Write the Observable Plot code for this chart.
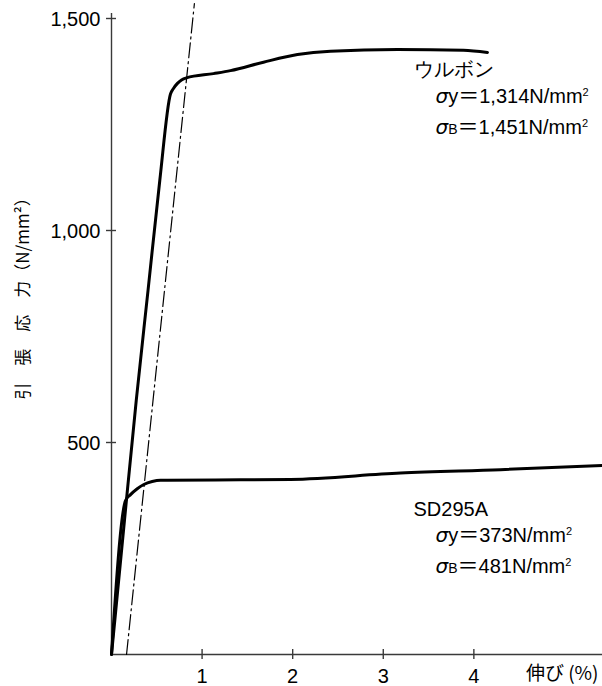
<!DOCTYPE html>
<html>
<head>
<meta charset="utf-8">
<script src="https://cdn.jsdelivr.net/npm/d3@7"></script>
<script src="https://cdn.jsdelivr.net/npm/@observablehq/plot@0.6"></script>
<style>
  html, body { margin: 0; padding: 0; background: #fff; }
  #chart svg { display: block; }
</style>
</head>
<body>
<div id="chart"></div>
<script>
// ---- data ----
const xTicks = [1, 2, 3, 4];
const yTicks = [500, 1000, 1500];

// ウルボン curve: strain (%) and stress (N/mm²)
const ultbonStrain = [0, 0.143, 0.273, 0.403, 0.533, 0.651, 0.684, 0.728, 0.773, 0.828, 1.126, 1.313, 1.678, 2.053, 2.417, 3.157, 3.885, 4.150];
const ultbonStress = [0, 316, 599, 858, 1118, 1322, 1335, 1347, 1355, 1360, 1370, 1377, 1397, 1415, 1423, 1427, 1425, 1420];

// SD295A curve
const sdStrain = [0, 0.155, 0.21, 0.284, 0.357, 0.449, 0.541, 0.615, 1.424, 1.976, 3.19, 4.294, 5.42];
const sdStress = [0, 363, 377, 391, 401, 408, 411, 411, 412, 413, 428, 436, 446];

// offset (dash-dot) line
const offsetStrain = [0.166, 0.915];
const offsetStress = [0, 1535];

// annotation texts and anchor values
const annoText = ["ウルボン", "σy＝1,314N/mm²", "σB＝1,451N/mm²", "SD295A", "σy＝373N/mm²", "σB＝481N/mm²"];
const annoStrain = [3.334, 3.577, 3.577, 3.334, 3.577, 3.577];
const annoStress = [1380, 1315, 1243, 342, 281, 208];

const yLabel = "引　張　応　力（N/mm²）";
const xLabel = "伸び (%)";

const ultbon = ultbonStrain.map((x, i) => ({x, y: ultbonStress[i]}));
const sd = sdStrain.map((x, i) => ({x, y: sdStress[i]}));
const offset = offsetStrain.map((x, i) => ({x, y: offsetStress[i]}));
const annos = annoText.map((t, i) => ({t, x: annoStrain[i], y: annoStress[i]}));

const latin = "Liberation Sans, Arial, Helvetica, sans-serif";
const cjk = "Noto Sans CJK JP, sans-serif";
const axisColor = "#3a3a3a";

const svg = Plot.plot({
  width: 602,
  height: 686,
  marginLeft: 111,
  marginRight: 0,
  marginTop: 18,
  marginBottom: 32,
  x: {domain: [0, 5.42], axis: null},
  y: {domain: [0, 1500], axis: null},
  style: {fontFamily: latin, fontSize: "20px", background: "#fff", color: "#000"},
  marks: [
    // axes lines
    Plot.ruleY([0], {stroke: axisColor, strokeWidth: 1.4}),
    Plot.ruleX([0], {y1: 0, y2: 1512, stroke: axisColor, strokeWidth: 1.4}),
    // crossing tick marks
    Plot.ruleX(xTicks, {x: d => d, y1: 0, y2: 0, insetTop: -5, insetBottom: -5, stroke: axisColor, strokeWidth: 1.4}),
    Plot.ruleY(yTicks, {y: d => d, x1: 0, x2: 0, insetLeft: -5, insetRight: -5, stroke: axisColor, strokeWidth: 1.4}),
    // tick labels
    Plot.text(xTicks, {x: d => d, y: 0, dy: 22, text: d => String(d), fontSize: 20, fontFamily: latin, fill: "#000"}),
    Plot.text(yTicks, {x: 0, y: d => d, dx: -11, dy: 1, text: d => d3.format(",")(d), textAnchor: "end", fontSize: 20, fontFamily: latin, fill: "#000"}),
    // axis titles
    Plot.text([xLabel], {frameAnchor: "right", y: 0, dx: -4, dy: 19, text: d => d, textAnchor: "end", fontSize: 19, fontFamily: cjk, fill: "#000"}),
    Plot.text([yLabel], {x: -0.971, y: 849, text: d => d, rotate: -90, fontSize: 17, fontFamily: cjk, fill: "#000"}),
    // offset line
    Plot.line(offset, {x: "x", y: "y", stroke: "#000", strokeWidth: 1.2, strokeDasharray: "15,4,2,4"}),
    // curves
    Plot.line(ultbon, {x: "x", y: "y", stroke: "#000", strokeWidth: 3, curve: "monotone-x"}),
    Plot.line(sd, {x: "x", y: "y", stroke: "#000", strokeWidth: 3, curve: "monotone-x"}),
    // annotations
    Plot.text(annos, {x: "x", y: "y", text: "t", textAnchor: "start", fontSize: 20,
      fontFamily: d => d.t.startsWith("σ") || d.t === "SD295A" ? latin : cjk, fill: "#000"})
  ]
});

// style the sigma labels: italic σ, small subscript letter, full-width ＝, small superscript ²
d3.select(svg).selectAll("text").each(function() {
  const s = this.textContent;
  const m = s.match(/^σ([yB])＝(.*)²$/);
  if (m) {
    const sel = d3.select(this);
    sel.text(null);
    sel.append("tspan").attr("font-family", "DejaVu Sans, sans-serif").attr("font-style", "italic").text("σ");
    sel.append("tspan").attr("font-size", m[1] === "B" ? 14 : 20).text(m[1]);
    sel.append("tspan").attr("font-family", cjk).attr("font-size", 21).text("＝");
    sel.append("tspan").text(m[2]);
    sel.append("tspan").attr("font-size", 11).attr("dy", -7).text("2");
  }
});

document.getElementById("chart").appendChild(svg);
</script>
</body>
</html>
